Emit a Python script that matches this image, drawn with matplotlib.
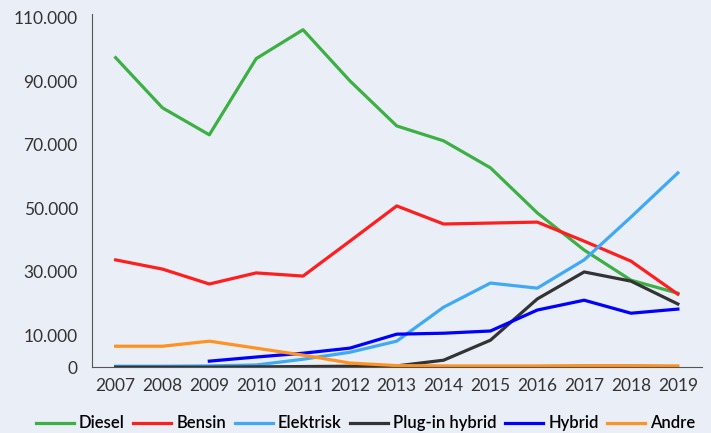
import matplotlib
matplotlib.use('Agg')
import matplotlib.pyplot as plt

years = [2007, 2008, 2009, 2010, 2011, 2012, 2013, 2014, 2015, 2016, 2017, 2018, 2019]

diesel = [97500, 81700, 73200, 97200, 106300, 90200, 76000, 71300, 62800, 48600, 36900, 27400, 23300]
bensin = [33800, 30900, 26200, 29700, 28700, 39700, 50800, 45100, 45400, 45700, 39700, 33400, 23000]
elektrisk = [300, 300, 400, 700, 2500, 4700, 8200, 18900, 26500, 24900, 33800, 47300, 61200]
plugin = [0, 0, 0, 100, 200, 300, 400, 2200, 8500, 21500, 30000, 27100, 19900]
hybrid_years = years[2:]
hybrid = [1900, 3200, 4400, 6000, 10400, 10700, 11400, 18000, 21100, 17000, 18300]
andre = [6600, 6600, 8200, 6000, 3800, 1300, 500, 400, 400, 400, 500, 500, 400]

yticks = [0, 10000, 30000, 50000, 70000, 90000, 110000]
ytick_labels = ['0', '10.000', '30.000', '50.000', '70.000', '90.000', '110.000']

bg = '#EAEEF7'
plt.rcParams['font.family'] = ['Lato', 'DejaVu Sans']

fig = plt.figure(figsize=(7.11, 4.33), dpi=100, facecolor=bg)
ax = fig.add_axes([0.129, 0.152, 0.858, 0.816], facecolor=bg)

lw = 2.3
ax.plot(years, diesel, color='#3CB043', lw=lw, label='Diesel')
ax.plot(years, bensin, color='#FF1E1E', lw=lw, label='Bensin')
ax.plot(years, elektrisk, color='#3FA9F5', lw=lw, label='Elektrisk')
ax.plot(years, plugin, color='#333333', lw=lw, label='Plug-in hybrid')
ax.plot(hybrid_years, hybrid, color='#0000FF', lw=lw, label='Hybrid')
ax.plot(years, andre, color='#FF9220', lw=lw, label='Andre')

ax.set_xlim(2006.49, 2019.51)
ax.set_ylim(0, 111300)
ax.set_xticks(years)
ax.set_yticks(yticks)
ax.set_yticklabels(ytick_labels)
ax.tick_params(axis='both', length=0, labelsize=12.5, labelcolor='#333333')
ax.tick_params(axis='y', pad=10)
ax.tick_params(axis='x', pad=8)

for s in ['top', 'right']:
    ax.spines[s].set_visible(False)
ax.spines['left'].set_color('#555555')
ax.spines['bottom'].set_color('#555555')

ax.legend(loc='center', bbox_to_anchor=(0.449, -0.159), ncol=6, frameon=False,
          handlelength=2.3, columnspacing=0.5, handletextpad=0.3,
          borderpad=0, prop={'weight': 'semibold', 'size': 12})

fig.savefig('out.png', dpi=100, facecolor=bg)
